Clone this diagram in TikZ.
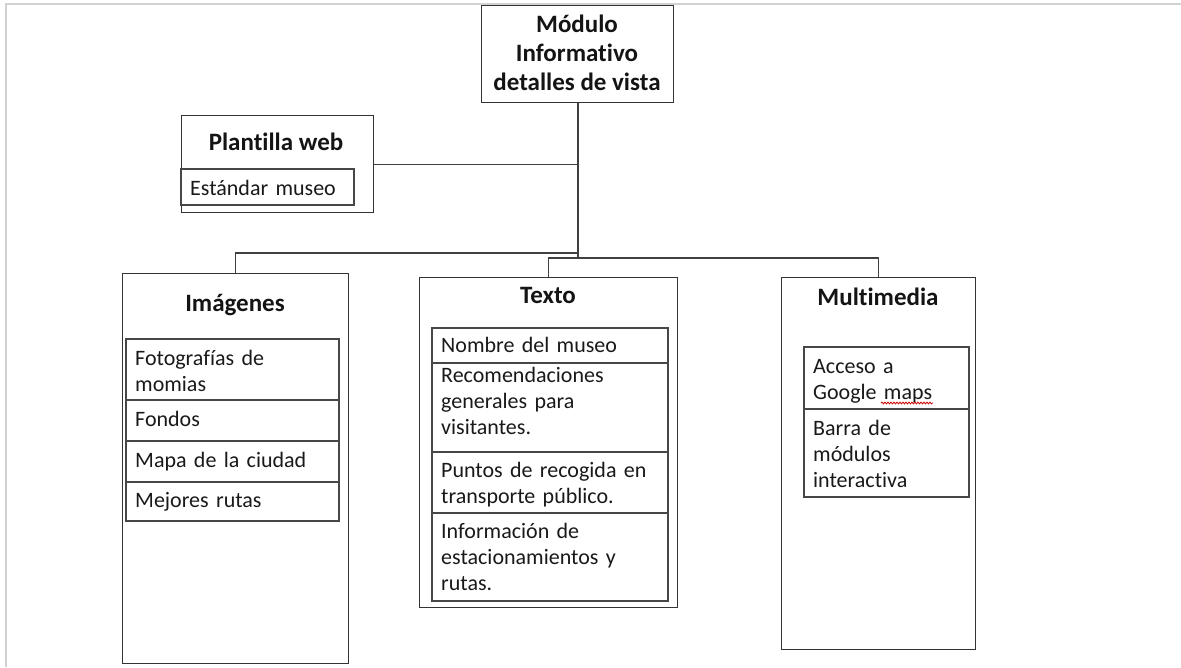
\documentclass[tikz,border=0pt]{standalone}
\usepackage{fontspec}
\setmainfont{Carlito}[Ligatures=NoCommon]
\usetikzlibrary{decorations.pathmorphing}
\tikzset{
  x=1pt, y=-1pt,
  boxline/.style={draw=black!80, line width=1.4pt},
  cellline/.style={draw=black!72, line width=1.3pt},
  bigbox/.style={boxline, inner sep=0pt, anchor=north west},
  titletext/.style={inner sep=0pt, anchor=base, font=\fontsize{25}{29}\selectfont\bfseries, text=black!92},
  celltext/.style={inner sep=0pt, anchor=base west, text width=260pt, align=left, font=\fontsize{22}{26}\selectfont, text=black!90},
  conn/.style={draw=black!75, line width=1.3pt},
  framegray/.style={draw=black!18, line width=2pt}
}
\newcommand\mkcell[7]{%
  \draw[cellline] (#2,#3) rectangle (#4,#5);
  \node[celltext] (#1) at (#2+9,#6) {#7};
}
\begin{document}
\begin{tikzpicture}
\useasboundingbox (0,0) rectangle (1181,667);
\draw[framegray] (6,667) -- (6,4) -- (1181,4);

% main boxes
\node[bigbox, minimum width=192pt, minimum height=97pt] (top) at (481,5) {};
\node[bigbox, minimum width=192pt, minimum height=97pt] (plant) at (181,115) {};
\node[bigbox, minimum width=226pt, minimum height=390pt] (img) at (122,273) {};
\node[bigbox, minimum width=258pt, minimum height=330pt] (txt) at (419,277) {};
\node[bigbox, minimum width=194pt, minimum height=372pt] (mm) at (781,277) {};

% titles
\node[titletext] (t1) at (577,32) {Módulo};
\node[titletext] (t2) at (577,61) {Informativo};
\node[titletext] (t3) at (577,90) {detalles de vista};
\node[titletext] (tp) at (276,150) {Plantilla web};
\node[titletext] (ti) at (235,311) {Imágenes};
\node[titletext] (tt) at (548,303) {Texto};
\node[titletext] (tm) at (878,305) {Multimedia};

% cells
\mkcell{c0}{181}{169}{354}{205}{195}{Estándar museo}
\mkcell{c1}{126}{339}{339}{400}{365}{Fotografías de\\momias}
\mkcell{c2}{126}{400}{339}{441}{426}{Fondos}
\mkcell{c3}{126}{441}{339}{482}{467}{Mapa de la ciudad}
\mkcell{c4}{126}{482}{339}{521}{507}{Mejores rutas}
\mkcell{c5}{432}{328}{668}{363}{352}{Nombre del museo}
\mkcell{c6}{432}{363}{668}{452}{382}{Recomendaciones\\generales para\\visitantes.}
\mkcell{c7}{432}{452}{668}{513}{477}{Puntos de recogida en\\transporte público.}
\mkcell{c8}{432}{513}{668}{601}{538}{Información de\\estacionamientos y\\rutas.}
\mkcell{c9}{804}{347}{969}{409}{373}{Acceso a\\Google maps}
\mkcell{c10}{804}{409}{969}{497}{435}{Barra de\\módulos\\interactiva}
\draw[red!80!black, line width=0.8pt, decorate, decoration={snake, amplitude=0.9pt, segment length=3pt}] (881,403) -- (933,403);

% connectors
\coordinate (ja) at (578,253);
\coordinate (jb) at (578,258);
\draw[conn] (top.south -| ja) -- (jb);
\draw[conn] (plant.east) -- (plant.east -| ja);
\draw[conn] (ja) -| (img.north);
\draw[conn] (jb) -| (txt.north);
\draw[conn] (jb) -| (mm.north);
\end{tikzpicture}
\end{document}
